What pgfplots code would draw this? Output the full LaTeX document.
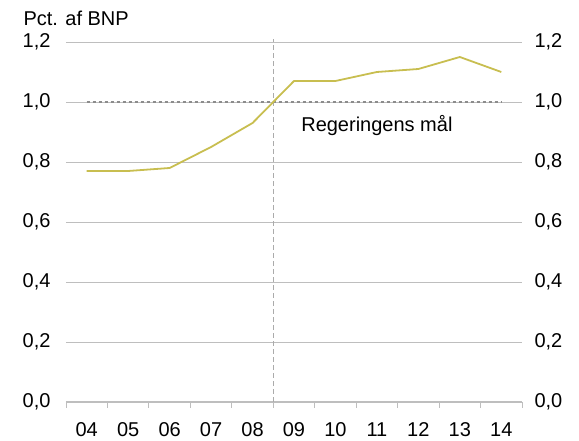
\documentclass[border=0pt]{standalone}
\usepackage{fontspec}
\setmainfont{Liberation Sans}
\usepackage{pgfplots}
\pgfplotsset{compat=1.18}
\definecolor{linec}{RGB}{200,190,80}
\definecolor{gridc}{RGB}{190,190,190}
\definecolor{dashc}{RGB}{140,140,140}
\begin{document}
\begin{tikzpicture}[font=\fontsize{20}{23}\selectfont]
\useasboundingbox (-66pt,-39pt) rectangle (513pt,402pt);
\pgfplotsset{base/.style={scale only axis, width=456pt, height=360pt,
  xmin=-0.5, xmax=10.5, ymin=0, ymax=1.2,
  ytick={0,0.2,0.4,0.6,0.8,1.0,1.2},
  /pgf/number format/.cd, use comma, fixed, fixed zerofill, precision=1, assume math mode=true,
  /pgfplots/.cd, major tick length=0pt, clip=false}}
\begin{axis}[base,
  axis x line*=bottom, axis y line*=left,
  y axis line style={draw=none},
  x axis line style={gridc, line width=1pt},
  ymajorgrids, grid style={gridc, line width=0.9pt},
  xtick={0,1,2,3,4,5,6,7,8,9,10},
  xticklabels={04,05,06,07,08,09,10,11,12,13,14},
  minor xtick={-0.5,0.5,1.5,2.5,3.5,4.5,5.5,6.5,7.5,8.5,9.5,10.5},
  minor tick length=6pt, xtick align=outside,
  minor tick style={gridc, line width=0.9pt},
  yticklabel style={xshift=-12pt},
  xticklabel style={yshift=-17pt}]
\addplot[gridc!90!black, line width=0.9pt, dash pattern=on 5pt off 3pt] coordinates {(4.5,0) (4.5,1.21)};
\addplot[dashc, line width=1.1pt, dash pattern=on 3pt off 3pt] coordinates {(0,1) (10,1)};
\addplot[linec, line width=1.8pt, line join=round] coordinates {(0,0.77)(1,0.77)(2,0.78)(3,0.85)(4,0.93)(5,1.07)(6,1.07)(7,1.10)(8,1.11)(9,1.15)(10,1.10)};
\node at (axis cs:7,0.92) {Regeringens mål};
\end{axis}
\begin{axis}[base, axis x line=none, axis y line*=right,
  y axis line style={draw=none},
  yticklabel style={xshift=9pt}]
\end{axis}
\node[anchor=base west] at (-46pt,376pt) {Pct. af BNP};
\end{tikzpicture}
\end{document}
